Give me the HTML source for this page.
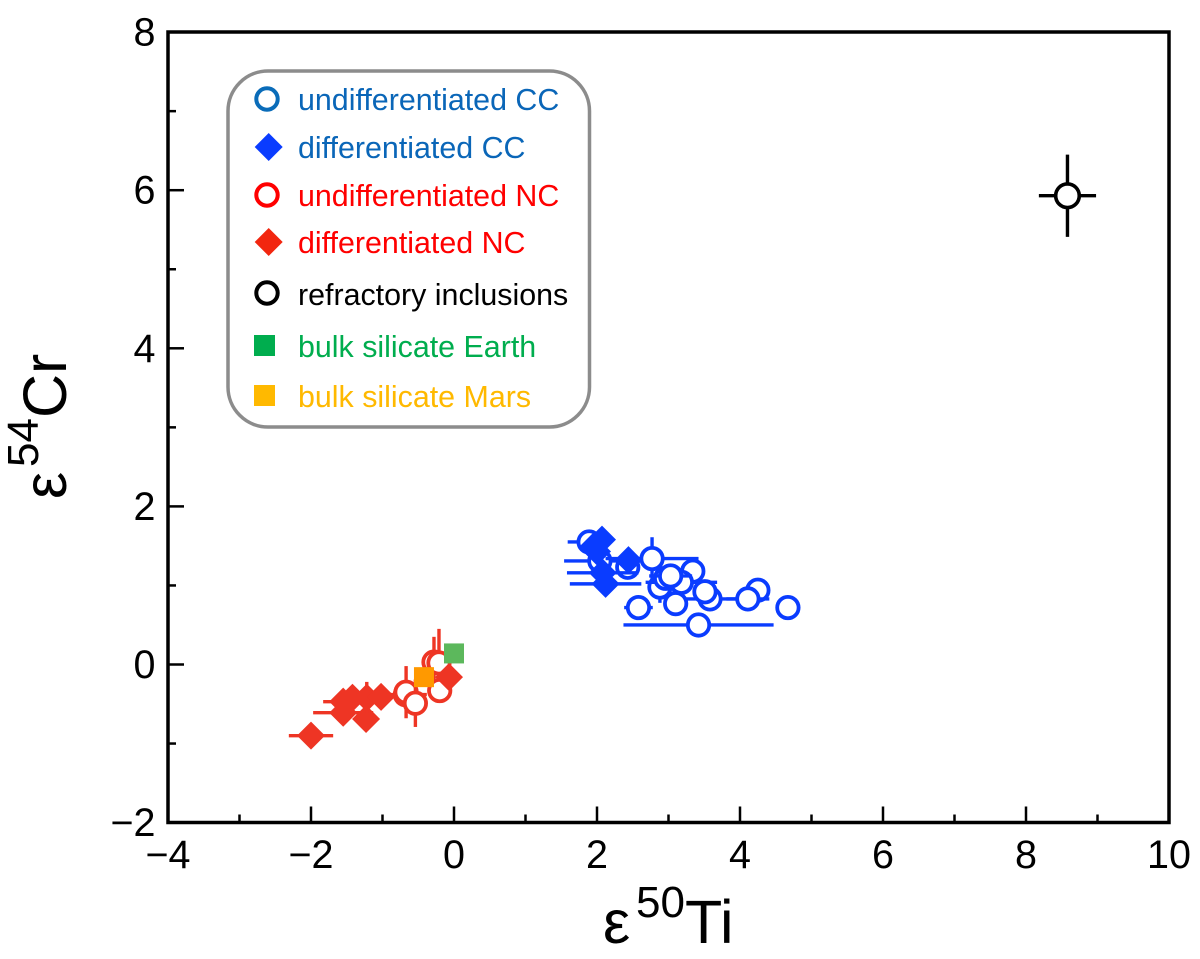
<!DOCTYPE html>
<html lang="en">
<head>
<meta charset="utf-8">
<title>Chromium and titanium isotope anomalies</title>
<style>
html,body{margin:0;padding:0;background:#fff;}
svg{display:block;}
text{font-family:"Liberation Sans",Arial,sans-serif;}
</style>
</head>
<body>
<svg id="chart" xmlns="http://www.w3.org/2000/svg" width="1200" height="959" viewBox="0 0 1200 959">
  <rect x="0" y="0" width="1200" height="959" fill="#fff"/>
  <g id="ticks"></g>
  <g id="marks"></g>
  <rect x="168" y="32" width="1001" height="790.5" fill="none" stroke="#000" stroke-width="3.5"/>
  <g id="tick-labels"></g>

  <text fill="#000" font-size="61"><tspan x="603" y="943">ε</tspan><tspan x="636" y="917" font-size="44">50</tspan><tspan x="685" y="943">Ti</tspan></text>
  <g transform="translate(66,499) rotate(-90)">
    <text fill="#000" font-size="61"><tspan x="0" y="0">ε</tspan><tspan x="32" y="-28" font-size="44">54</tspan><tspan x="81" y="0">Cr</tspan></text>
  </g>

  <g>
    <rect x="228" y="71" width="361.5" height="356" rx="40" ry="40" fill="#fff" stroke="#8c8c8c" stroke-width="3.5"/>
    <g>
      <circle cx="267" cy="99" r="10.7" fill="#fff" stroke="#0a6cb9" stroke-width="4"/>
      <text x="298" y="110" font-size="30.4" fill="#0a66b8">undifferentiated CC</text>
    </g>
    <g>
      <polygon points="268.7,133 282.7,147 268.7,161 254.7,147" fill="#0a3cff"/>
      <text x="298" y="158" font-size="30.4" fill="#0a66b8">differentiated CC</text>
    </g>
    <g>
      <circle cx="267" cy="195" r="10.7" fill="#fff" stroke="#ff0000" stroke-width="4"/>
      <text x="298" y="206" font-size="30.4" fill="#ff0000">undifferentiated NC</text>
    </g>
    <g>
      <polygon points="268.7,228 282.7,242 268.7,256 254.7,242" fill="#f2260f"/>
      <text x="298" y="253" font-size="30.4" fill="#ff0000">differentiated NC</text>
    </g>
    <g>
      <circle cx="267" cy="293" r="10.7" fill="#fff" stroke="#000" stroke-width="4"/>
      <text x="298" y="305" font-size="30.4" fill="#000">refractory inclusions</text>
    </g>
    <g>
      <rect x="254" y="335" width="21" height="21" fill="#00ad4e"/>
      <text x="298" y="357" font-size="30.4" fill="#00ad4e">bulk silicate Earth</text>
    </g>
    <g>
      <rect x="254" y="385" width="21" height="21" fill="#ffb900"/>
      <text x="298" y="407" font-size="30.4" fill="#ffb900">bulk silicate Mars</text>
    </g>
  </g>
</svg>
<script>
// Axis tick values
const xMajorTicks = [-4, -2, 0, 2, 4, 6, 8, 10];
const xMinorTicks = [-3, -1, 1, 3, 5, 7, 9];
const yMajorTicks = [-2, 0, 2, 4, 6, 8];
const yMinorTicks = [-1, 1, 3, 5, 7];

// Undifferentiated carbonaceous chondrites
const ucX    = [1.89, 2.04, 2.43, 2.77, 3.34, 2.88, 3.18, 2.96, 3.03, 3.58, 3.51, 4.25, 4.11, 4.67, 2.58, 3.10, 3.42];
const ucY    = [1.55, 1.31, 1.23, 1.34, 1.18, 0.98, 1.04, 1.09, 1.12, 0.83, 0.92, 0.94, 0.83, 0.72, 0.72, 0.77, 0.50];
const ucXerr = [0.30, 0.50, 0.15, 0.65, 0.10, 0.10, 0.50, 0.15, 0.30, 0.40, 0.15, 0.10, 0.30, 0.00, 0.20, 0.10, 1.05];
const ucYerr = [0.05, 0.10, 0.05, 0.27, 0.05, 0.20, 0.05, 0.10, 0.10, 0.15, 0.15, 0.05, 0.05, 0.00, 0.05, 0.05, 0.05];

// Differentiated carbonaceous meteorites
const dcX    = [1.96, 2.07, 2.00, 2.08, 2.12, 2.44];
const dcY    = [1.50, 1.58, 1.43, 1.16, 1.02, 1.32];
const dcXerr = [0.15, 0.10, 0.10, 0.50, 0.50, 0.10];
const dcYerr = [0.05, 0.05, 0.05, 0.05, 0.05, 0.05];

// Undifferentiated non-carbonaceous chondrites
const unX    = [-0.28, -0.21, -0.20, -0.68, -0.67, -0.54];
const unY    = [ 0.03,  0.02, -0.33, -0.38, -0.35, -0.49];
const unXerr = [ 0.05,  0.05,  0.05,  0.30,  0.10,  0.05];
const unYerr = [ 0.32,  0.43,  0.10,  0.15,  0.33,  0.30];

// Differentiated non-carbonaceous meteorites
const dnX    = [-2.00, -1.55, -1.55, -1.42, -1.23, -1.22, -1.02, -0.07];
const dnY    = [-0.90, -0.47, -0.61, -0.42, -0.69, -0.42, -0.41, -0.16];
const dnXerr = [ 0.31,  0.28,  0.42,  0.10,  0.10,  0.10,  0.10,  0.05];
const dnYerr = [ 0.05,  0.05,  0.05,  0.05,  0.05,  0.20,  0.05,  0.05];

// Refractory inclusions
const riX    = [8.58];
const riY    = [5.93];
const riXerr = [0.40];
const riYerr = [0.52];

// Bulk silicate values
const earthX = [0];
const earthY = [0.14];
const marsX  = [-0.42];
const marsY  = [-0.16];

const SVGNS = 'http://www.w3.org/2000/svg';
const sx = function (v) { return 454 + v * 71.5; };
const sy = function (v) { return 664.5 - v * 79.05; };

function make(parent, tag, attrs) {
  const el = document.createElementNS(SVGNS, tag);
  Object.keys(attrs).forEach(function (k) { el.setAttribute(k, attrs[k]); });
  parent.appendChild(el);
  return el;
}

function errorBars(parent, x, y, xe, ye, color, width) {
  if (xe > 0) {
    const h = make(parent, 'line', { x1: sx(x - xe), x2: sx(x + xe), y1: sy(y), y2: sy(y), stroke: color, 'stroke-width': width });
    
    
  }
  if (ye > 0) {
    const v = make(parent, 'line', { x1: sx(x), x2: sx(x), y1: sy(y - ye), y2: sy(y + ye), stroke: color, 'stroke-width': width });
    
    
  }
}

function circleSeries(parent, name, xs, ys, xes, yes, color, r, sw) {
  xs.forEach(function (x, i) {
    errorBars(parent, x, ys[i], xes[i], yes[i], color, 3.4);
    const c = make(parent, 'circle', { cx: sx(x), cy: sy(ys[i]), r: r, fill: '#fff', stroke: color, 'stroke-width': sw });
    
    
  });
}

function diamondSeries(parent, name, xs, ys, xes, yes, color, halfSize) {
  xs.forEach(function (x, i) {
    errorBars(parent, x, ys[i], xes[i], yes[i], color, 3.4);
    const px = sx(x), py = sy(ys[i]);
    const d = make(parent, 'polygon', {
      points: px + ',' + (py - halfSize) + ' ' + (px + halfSize) + ',' + py + ' ' + px + ',' + (py + halfSize) + ' ' + (px - halfSize) + ',' + py,
      fill: color
    });
    
    
  });
}

function squareSeries(parent, name, xs, ys, color, size) {
  xs.forEach(function (x, i) {
    const s = make(parent, 'rect', { x: sx(x) - size / 2, y: sy(ys[i]) - size / 2, width: size, height: size, fill: color });
    
    
  });
}

const tickGroup = document.getElementById('ticks');
const labelGroup = document.getElementById('tick-labels');
const marks = document.getElementById('marks');

function fmt(v) { return v < 0 ? '\u2212' + Math.abs(v) : String(v); }

xMajorTicks.forEach(function (v) {
  const t = make(tickGroup, 'line', { x1: sx(v), x2: sx(v), y1: 822.5, y2: 806.5, stroke: '#000', 'stroke-width': 2.5 });
  
  
  const l = make(labelGroup, 'text', { x: sx(v), y: 868, 'text-anchor': 'middle', 'font-size': 39.5, fill: '#000' });
  
  
  l.textContent = fmt(v);
});
xMinorTicks.forEach(function (v) {
  const t = make(tickGroup, 'line', { x1: sx(v), x2: sx(v), y1: 822.5, y2: 814.5, stroke: '#000', 'stroke-width': 2.5 });
  
  
});
yMajorTicks.forEach(function (v) {
  const t = make(tickGroup, 'line', { x1: 168, x2: 184, y1: sy(v), y2: sy(v), stroke: '#000', 'stroke-width': 2.5 });
  
  
  const l = make(labelGroup, 'text', { x: 155.5, y: sy(v) + 13.5, 'text-anchor': 'end', 'font-size': 39.5, fill: '#000' });
  
  
  l.textContent = fmt(v);
});
yMinorTicks.forEach(function (v) {
  const t = make(tickGroup, 'line', { x1: 168, x2: 176, y1: sy(v), y2: sy(v), stroke: '#000', 'stroke-width': 2.5 });
  
  
});

circleSeries(marks, 'undifferentiated-cc-point', ucX, ucY, ucXerr, ucYerr, '#0a3cff', 10.7, 3.8);
diamondSeries(marks, 'differentiated-cc-point', dcX, dcY, dcXerr, dcYerr, '#0a3cff', 14);
circleSeries(marks, 'undifferentiated-nc-point', unX, unY, unXerr, unYerr, '#ee3524', 10.7, 3.8);
diamondSeries(marks, 'differentiated-nc-point', dnX, dnY, dnXerr, dnYerr, '#ee3524', 14);
circleSeries(marks, 'refractory-inclusions-point', riX, riY, riXerr, riYerr, '#000', 11.8, 3.6);
squareSeries(marks, 'bulk-silicate-earth-point', earthX, earthY, '#5cb85c', 20);
squareSeries(marks, 'bulk-silicate-mars-point', marsX, marsY, '#ff9900', 20);
</script>
</body>
</html>
